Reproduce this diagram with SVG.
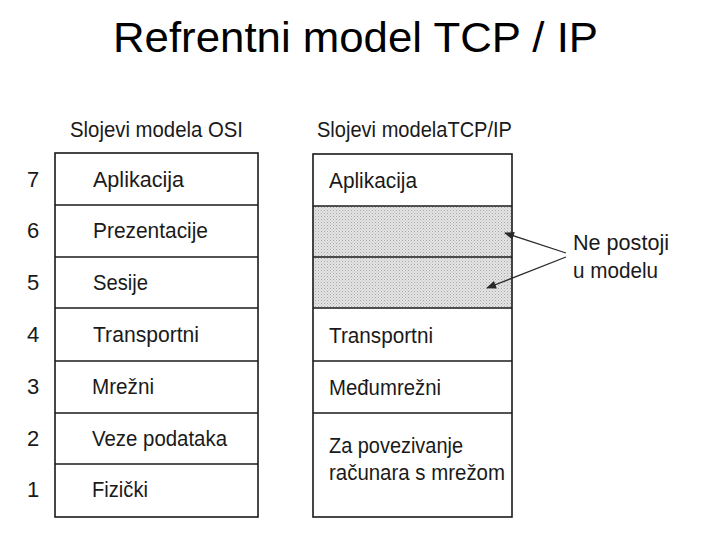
<svg xmlns="http://www.w3.org/2000/svg" width="720" height="540" viewBox="0 0 720 540">
<defs>
<style>
.t{font-family:"Liberation Sans",Arial,sans-serif;fill:#1a1a1a}
.lbl{font-size:22px}
.num{font-size:22px}
.box{fill:none;stroke:#1a1a1a;stroke-width:1.6}
.div{stroke:#1a1a1a;stroke-width:1.4}
.conn{stroke:#2a2a2a;stroke-width:1.3;fill:none}
</style>
<pattern id="dots" width="3" height="3" patternUnits="userSpaceOnUse">
<rect width="3" height="3" fill="#e4e4e4"/>
<rect width="1" height="1" fill="#a8a8a8"/>
<rect x="1.5" y="1.5" width="1" height="1" fill="#bdbdbd"/>
</pattern>
<marker id="ah" viewBox="0 0 10 10" refX="9" refY="5" markerWidth="14" markerHeight="10" markerUnits="userSpaceOnUse" orient="auto">
<path d="M0,1 L10,5 L0,9 Z" fill="#2a2a2a"/>
</marker>
</defs>
<rect width="720" height="540" fill="#ffffff"/>
<text x="113" y="52" font-family="'Liberation Sans',Arial,sans-serif" font-size="42" fill="#000" textLength="485" lengthAdjust="spacingAndGlyphs">Refrentni model TCP / IP</text>

<g id="osi">
<text class="t lbl" x="70" y="137" textLength="173" lengthAdjust="spacingAndGlyphs">Slojevi modela OSI</text>
<rect class="box" x="55" y="153" width="203" height="364"/>
<line class="div" x1="55" y1="205" x2="258" y2="205"/>
<line class="div" x1="55" y1="257" x2="258" y2="257"/>
<line class="div" x1="55" y1="308" x2="258" y2="308"/>
<line class="div" x1="55" y1="361" x2="258" y2="361" stroke-width="2.4"/>
<line class="div" x1="55" y1="413" x2="258" y2="413"/>
<line class="div" x1="55" y1="464" x2="258" y2="464"/>
</g>
<g id="osi-7"><text class="t num" x="27" y="187">7</text><text class="t lbl" x="93" y="187" textLength="91" lengthAdjust="spacingAndGlyphs">Aplikacija</text></g>
<g id="osi-6"><text class="t num" x="27" y="238">6</text><text class="t lbl" x="93" y="238" textLength="115" lengthAdjust="spacingAndGlyphs">Prezentacije</text></g>
<g id="osi-5"><text class="t num" x="27" y="290">5</text><text class="t lbl" x="93" y="290" textLength="55" lengthAdjust="spacingAndGlyphs">Sesije</text></g>
<g id="osi-4"><text class="t num" x="27" y="342">4</text><text class="t lbl" x="93" y="342" textLength="106" lengthAdjust="spacingAndGlyphs">Transportni</text></g>
<g id="osi-3"><text class="t num" x="27" y="394">3</text><text class="t lbl" x="92" y="394" textLength="62" lengthAdjust="spacingAndGlyphs">Mrežni</text></g>
<g id="osi-2"><text class="t num" x="27" y="446">2</text><text class="t lbl" x="92" y="446" textLength="135" lengthAdjust="spacingAndGlyphs">Veze podataka</text></g>
<g id="osi-1"><text class="t num" x="27" y="497">1</text><text class="t lbl" x="92" y="497" textLength="56" lengthAdjust="spacingAndGlyphs">Fizički</text></g>

<g id="tcpip">
<text class="t lbl" x="317" y="137" textLength="195" lengthAdjust="spacingAndGlyphs">Slojevi modelaTCP/IP</text>
<rect x="313" y="206" width="199" height="102" fill="url(#dots)"/>
<rect class="box" x="313" y="154" width="199" height="363"/>
<line class="div" x1="313" y1="206" x2="512" y2="206"/>
<line class="div" x1="313" y1="257" x2="512" y2="257"/>
<line class="div" x1="313" y1="308" x2="512" y2="308"/>
<line class="div" x1="313" y1="361" x2="512" y2="361" stroke-width="2.4"/>
<line class="div" x1="313" y1="413" x2="512" y2="413"/>
</g>
<g id="tcp-app"><text class="t lbl" x="329" y="188" textLength="88" lengthAdjust="spacingAndGlyphs">Aplikacija</text></g>
<g id="tcp-transport"><text class="t lbl" x="329" y="343" textLength="104" lengthAdjust="spacingAndGlyphs">Transportni</text></g>
<g id="tcp-internet"><text class="t lbl" x="329" y="395" textLength="112" lengthAdjust="spacingAndGlyphs">Međumrežni</text></g>
<g id="tcp-link">
<text class="t lbl" x="329" y="453" textLength="134" lengthAdjust="spacingAndGlyphs">Za povezivanje</text>
<text class="t lbl" x="329" y="480" textLength="176" lengthAdjust="spacingAndGlyphs">računara s mrežom</text>
</g>

<g id="note">
<text class="t lbl" x="573" y="250" textLength="96" lengthAdjust="spacingAndGlyphs">Ne postoji</text>
<text class="t lbl" x="573" y="278" textLength="85" lengthAdjust="spacingAndGlyphs">u modelu</text>
</g>

<g id="connectors">
<line class="conn" x1="566" y1="253" x2="505" y2="233" marker-end="url(#ah)"/>
<line class="conn" x1="566" y1="257" x2="487" y2="288" marker-end="url(#ah)"/>
</g>
</svg>
